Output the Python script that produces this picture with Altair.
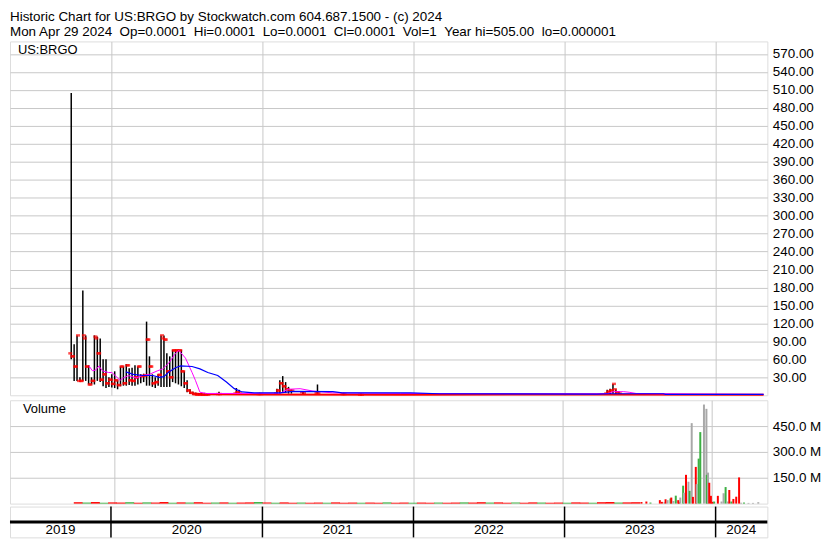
import altair as alt
import pandas as pd

FONT = "Liberation Sans"
GRID = "#c8c8c8"

title_line1 = "Historic Chart for US:BRGO by Stockwatch.com 604.687.1500 - (c) 2024"
title_line2 = ("Mon Apr 29 2024 \u00a0Op=0.0001 \u00a0Hi=0.0001 \u00a0Lo=0.0001 \u00a0Cl=0.0001"
               " \u00a0Vol=1 \u00a0Year hi=505.00 \u00a0lo=0.000001")

# ---- weekly price bars (Sep 2019 - Aug 2020) ----
early_dates = [
    "2019-09-27", "2019-10-04", "2019-10-11", "2019-10-18", "2019-10-25", "2019-11-01",
    "2019-11-08", "2019-11-15", "2019-11-22", "2019-11-29", "2019-12-06", "2019-12-13",
    "2019-12-20", "2019-12-27", "2020-01-03", "2020-01-10", "2020-01-17", "2020-01-24",
    "2020-01-31", "2020-02-07", "2020-02-14", "2020-02-21", "2020-02-28", "2020-03-06",
    "2020-03-13", "2020-03-20", "2020-03-27", "2020-04-03", "2020-04-10", "2020-04-17",
    "2020-04-24", "2020-05-01", "2020-05-08", "2020-05-15", "2020-05-22", "2020-05-29",
    "2020-06-05", "2020-06-12", "2020-06-19", "2020-06-26", "2020-07-03", "2020-07-10",
    "2020-07-17", "2020-07-24", "2020-07-31", "2020-08-07",
]
early_high = [505, 85, 100, 30, 175, 100, 50, 30, 100, 98, 95, 60, 60, 30, 35, 40, 25, 48,
              48, 52, 45, 46, 50, 48, 35, 36, 123, 65, 35, 30, 35, 100, 100, 70, 65, 76,
              76, 76, 76, 40, 25, 10, 6, 4, 3, 3]
early_low = [60, 24, 24, 22, 24, 24, 18, 18, 18, 24, 22, 15, 12, 14, 13, 12, 10, 15,
             16, 16, 17, 16, 16, 18, 20, 22, 16, 16, 14, 12, 16, 14, 14, 14, 14, 22,
             20, 18, 15, 12, 5, 2, 1, 0.5, 0.5, 0.3]
early_open = [70, 65, 48, 24, 24, 95, 48, 18, 24, 95, 70, 26, 35, 20, 26, 19, 25, 17,
              48, 20, 50, 25, 24, 30, 48, 32, 33, 93, 48, 20, 22, 34, 95, 93, 40, 30,
              75, 75, 75, 40, 20, 8, 4, 2, 1, 1]
early_close = [65, 48, 100, 24, 100, 48, 18, 24, 98, 70, 26, 35, 20, 26, 19, 25, 17, 48,
               20, 50, 25, 24, 30, 48, 32, 33, 93, 48, 20, 22, 34, 100, 93, 40, 30, 75,
               75, 75, 40, 20, 8, 4, 2, 1, 1, 0.8]

# ---- later visible price bars ----
later_dates = ["2020-08-14", "2020-08-21", "2020-09-18", "2020-10-30", "2020-11-06",
               "2020-12-25", "2021-02-05", "2021-02-12", "2021-02-19", "2021-02-26",
               "2021-03-05", "2021-03-12", "2021-04-09", "2021-05-14", "2021-07-16",
               "2021-08-27", "2023-04-14", "2023-04-21", "2023-04-28", "2023-05-05",
               "2023-05-12"]
later_high = [4, 3, 6, 12, 9, 4, 11, 25, 32, 22, 14, 10, 6, 18, 4, 3, 9, 11, 19, 10, 7]
later_low = [0.5, 0.5, 1, 2, 2, 1, 2, 3, 4, 4, 3, 3, 2, 3, 1, 1, 2, 2, 3, 2, 2]
later_open = [1, 1, 2, 3, 5, 2, 3, 8, 20, 15, 10, 8, 5, 4, 2, 1, 3, 6, 8, 10, 5]
later_close = [1, 1, 2, 5, 3, 2, 8, 20, 15, 10, 8, 8, 4, 4, 2, 1, 6, 8, 19, 5, 3]

# ---- moving averages / close line ----
fast_dates = ["2019-11-09", "2019-11-17", "2019-11-25", "2019-12-03", "2019-12-11",
              "2019-12-26", "2020-01-03", "2020-01-11", "2020-01-23", "2020-01-31",
              "2020-02-12", "2020-03-02", "2020-03-18", "2020-04-03", "2020-04-23",
              "2020-05-05", "2020-05-20", "2020-06-05", "2020-06-13", "2020-06-29",
              "2020-07-15", "2020-07-23", "2020-08-03", "2020-08-19", "2020-11-18",
              "2021-02-13", "2021-03-04", "2021-04-02", "2021-05-03", "2021-06-20",
              "2021-12-01", "2023-03-20", "2023-04-16", "2023-04-28", "2023-05-24",
              "2023-06-06", "2023-06-23", "2023-11-12", "2024-04-26"]
fast_vals = [49, 41, 42, 49, 41, 38, 38, 33, 25, 29, 33, 29, 33, 35, 41, 44, 54, 70, 75,
             62, 38, 25, 5, 3, 3, 3.5, 10, 11, 7, 4, 3, 2.5, 3, 6, 6, 5, 3, 2, 1.5]

slow_dates = ["2020-02-06", "2020-02-24", "2020-03-18", "2020-04-11", "2020-04-27",
              "2020-05-08", "2020-05-20", "2020-06-05", "2020-06-17", "2020-07-15",
              "2020-08-03", "2020-08-22", "2020-09-15", "2020-10-06", "2020-10-25",
              "2020-11-13", "2020-12-12", "2021-02-13", "2021-03-16", "2021-06-20",
              "2021-07-13", "2021-12-25", "2022-03-05", "2023-03-20", "2023-04-16",
              "2023-08-28", "2023-09-02", "2024-04-26"]
slow_vals = [39, 35, 33, 33, 30, 31, 39, 46, 49, 48, 44, 38, 33, 22, 11, 5.5, 4, 4, 6.5,
             6, 4, 4, 2.5, 2, 2.5, 2.5, 1.5, 1.5]

close_dates = ["2020-07-20", "2020-08-10", "2021-12-01", "2023-03-20", "2024-04-26"]
close_vals = [3, 1.5, 1, 1.2, 1]

# ---- volume (millions): thin early strip, then the 2023-24 activity ----
strip_dates = [
    "2019-10-04", "2019-10-25", "2019-11-15", "2019-12-06", "2019-12-27", "2020-01-17",
    "2020-02-07", "2020-02-28", "2020-03-20", "2020-04-10", "2020-05-01", "2020-05-22",
    "2020-06-12", "2020-07-03", "2020-07-24", "2020-08-14", "2020-09-04", "2020-09-25",
    "2020-10-16", "2020-11-06", "2020-11-27", "2020-12-18", "2021-01-08", "2021-01-29",
    "2021-02-19", "2021-03-12", "2021-04-02", "2021-04-23", "2021-05-14", "2021-06-04",
    "2021-06-25", "2021-07-16", "2021-08-06", "2021-08-27", "2021-09-17", "2021-10-08",
    "2021-10-29", "2021-11-19", "2021-12-10", "2021-12-31", "2022-01-21", "2022-02-11",
    "2022-03-04", "2022-03-25", "2022-04-15", "2022-05-06", "2022-05-27", "2022-06-17",
    "2022-07-08", "2022-07-29", "2022-08-19", "2022-09-09", "2022-09-30", "2022-10-21",
    "2022-11-11", "2022-12-02", "2022-12-23", "2023-01-13", "2023-02-03", "2023-02-24",
    "2023-03-17", "2023-04-07", "2023-04-28", "2023-05-19", "2023-06-09", "2023-06-30",
]
strip_millions = [
    8, 6, 9, 5, 7, 6, 8, 5, 7, 6, 9, 5, 7, 6, 8, 5, 6, 7, 5, 6, 7, 9, 6, 5, 7, 5, 6, 5,
    6, 5, 7, 5, 6, 5, 6, 5, 7, 5, 6, 5, 6, 5, 6, 5, 6, 7, 6, 8, 6, 7, 5, 6, 5, 7, 6, 5,
    6, 5, 7, 6, 5, 8, 9, 6, 7, 8,
]
strip_dirs = [
    "down", "up", "down", "up", "down", "down", "up", "down", "up", "down", "down", "up",
    "down", "up", "down", "down", "up", "down", "up", "down", "down", "up", "down", "up",
    "down", "down", "up", "down", "down", "up", "down", "down", "down", "up", "down",
    "down", "up", "down", "down", "up", "down", "down", "up", "down", "down", "up",
    "down", "down", "up", "down", "down", "up", "down", "down", "up", "down", "down",
    "up", "down", "down", "up", "down", "down", "up", "down", "down",
]

vol_dates = [
    "2023-07-14", "2023-07-26", "2023-08-05", "2023-08-28", "2023-09-02", "2023-09-08",
    "2023-09-11", "2023-09-16", "2023-09-23", "2023-09-25", "2023-09-30", "2023-10-06",
    "2023-10-12", "2023-10-14", "2023-10-17", "2023-10-24", "2023-10-26", "2023-10-31",
    "2023-11-06", "2023-11-09", "2023-11-14", "2023-11-17", "2023-11-24", "2023-11-26",
    "2023-12-01", "2023-12-05", "2023-12-14", "2023-12-20", "2023-12-21", "2023-12-24",
    "2023-12-27", "2023-12-31", "2024-01-04", "2024-01-08", "2024-01-17", "2024-01-26",
    "2024-01-31", "2024-02-05", "2024-02-10", "2024-02-14", "2024-02-19", "2024-02-24",
    "2024-03-02", "2024-03-09", "2024-03-14", "2024-03-21", "2024-04-01", "2024-04-12",
    "2024-04-25",
]
vol_millions = [
    9, 12, 6, 20, 10, 8, 25, 20, 30, 35, 15, 46, 20, 10, 35, 104, 63, 167, 127, 74, 467,
    39, 213, 113, 261, 415, 575, 550, 167, 180, 121, 45, 10, 12, 45, 12, 60, 96, 12, 79,
    12, 27, 40, 152, 5, 6, 4, 4, 8,
]
vol_dirs = [
    "down", "down", "up", "down", "down", "flat", "down", "flat", "up", "down", "flat",
    "up", "down", "down", "flat", "up", "flat", "down", "flat", "up", "flat", "down",
    "down", "flat", "up", "up", "flat", "flat", "up", "flat", "down", "down", "down",
    "up", "down", "flat", "flat", "up", "flat", "down", "up", "down", "down", "down",
    "flat", "up", "flat", "flat", "flat",
]

price_ticks = [30, 60, 90, 120, 150, 180, 210, 240, 270, 300, 330, 360, 390, 420, 450,
               480, 510, 540, 570]
volume_ticks = [150e6, 300e6, 450e6]
year_starts = ["2020-01-01", "2021-01-01", "2022-01-01", "2023-01-01", "2024-01-01"]
year_names = ["2019", "2020", "2021", "2022", "2023", "2024"]
year_label_dates = ["2019-09-01", "2020-07-02", "2021-07-02", "2022-07-02",
                    "2023-07-02", "2024-03-03"]


def ms(s):
    return int(pd.Timestamp(s).value // 10**6)


x_domain = [ms("2019-05-02"), ms("2024-05-05")]
year_grid = [ms(d) for d in year_starts]

W = 762
x_grid = alt.X("date:T", scale=alt.Scale(domain=x_domain),
               axis=alt.Axis(values=year_grid, tickCount=len(year_grid), labels=False,
                             ticks=False, domain=False, grid=True, gridColor=GRID,
                             gridWidth=1, title=None))
x_plain = alt.X("date:T", scale=alt.Scale(domain=x_domain), axis=None)

price_scale = alt.Scale(domain=[0, 591], nice=False, zero=True)
price_axis = alt.Axis(orient="right", values=price_ticks, tickCount=len(price_ticks),
                      format=".2f", grid=True, gridColor=GRID, ticks=False, domain=False,
                      labelPadding=5, labelFontSize=13.5, labelFont=FONT,
                      labelColor="#000000", labelOverlap=False, title=None)

bars_df = pd.DataFrame({
    "date": early_dates + later_dates,
    "high": early_high + later_high,
    "low": early_low + later_low,
    "open": early_open + later_open,
    "close": early_close + later_close,
})
fast_df = pd.DataFrame({"date": fast_dates, "value": fast_vals})
slow_df = pd.DataFrame({"date": slow_dates, "value": slow_vals})
close_df = pd.DataFrame({"date": close_dates, "value": close_vals})

close_line = alt.Chart(close_df).mark_line(color="#ff0000", strokeWidth=2).encode(
    x=x_grid, y=alt.Y("value:Q", scale=price_scale, axis=price_axis))
hl = alt.Chart(bars_df).mark_rule(color="black", strokeWidth=1.5).encode(
    x=x_grid, y=alt.Y("low:Q", scale=price_scale, axis=price_axis), y2="high:Q")
op_tick = alt.Chart(bars_df).mark_tick(color="#ff0000", orient="horizontal", size=4,
                                       thickness=2.5, xOffset=-1).encode(
    x=x_grid, y=alt.Y("open:Q", scale=price_scale, axis=price_axis))
cl_tick = alt.Chart(bars_df).mark_tick(color="#ff0000", orient="horizontal", size=4,
                                       thickness=2.5, xOffset=1).encode(
    x=x_grid, y=alt.Y("close:Q", scale=price_scale, axis=price_axis))
fast_line = alt.Chart(fast_df).mark_line(color="#ff00ff", strokeWidth=1).encode(
    x=x_grid, y=alt.Y("value:Q", scale=price_scale, axis=price_axis))
slow_line = alt.Chart(slow_df).mark_line(color="#0000ff", strokeWidth=1.2).encode(
    x=x_grid, y=alt.Y("value:Q", scale=price_scale, axis=price_axis))
sym_label = alt.Chart(pd.DataFrame({"label": ["US:BRGO"]})).mark_text(
    align="left", baseline="top", dx=8, dy=3, font=FONT, fontSize=13, color="black").encode(
    x=alt.XDatum(alt.DateTime(year=2019, month=5, date=2, utc=True), type="temporal"),
    y=alt.YDatum(591), text="label:N")

price = alt.layer(close_line, hl, op_tick, cl_tick, fast_line, slow_line, sym_label).properties(
    width=W, height=356)

vol_scale = alt.Scale(domain=[0, 600e6], nice=False)
vol_axis = alt.Axis(orient="right", values=volume_ticks, tickCount=len(volume_ticks),
                    grid=True, gridColor=GRID, ticks=False, domain=False, labelPadding=5,
                    labelFontSize=13.5, labelFont=FONT, labelColor="#000000",
                    labelExpr="format(datum.value / 1000000, '.1f') + ' M'", title=None)
vol_color = alt.Color("dir:N", scale=alt.Scale(domain=["up", "down", "flat"],
                                               range=["#3cb043", "#ff0000", "#a8a8a8"]),
                      legend=None)

strip_df = pd.DataFrame({"date": strip_dates,
                         "volume": [v * 1e6 for v in strip_millions],
                         "dir": strip_dirs})
vol_df = pd.DataFrame({"date": vol_dates,
                       "volume": [v * 1e6 for v in vol_millions],
                       "dir": vol_dirs})
sbars = alt.Chart(strip_df).mark_bar(size=9).encode(
    x=x_grid, y=alt.Y("volume:Q", scale=vol_scale, axis=vol_axis), color=vol_color)
vbars = alt.Chart(vol_df).mark_bar(size=2).encode(
    x=x_grid, y=alt.Y("volume:Q", scale=vol_scale, axis=vol_axis), color=vol_color)
vol_label = alt.Chart(pd.DataFrame({"label": ["Volume"]})).mark_text(
    align="left", baseline="top", dx=8, dy=3, font=FONT, fontSize=13, color="black").encode(
    x=alt.XDatum(alt.DateTime(year=2019, month=5, date=2, utc=True), type="temporal"),
    y=alt.YDatum(600e6), text="label:N")
volume = alt.layer(sbars, vbars, vol_label).properties(width=W, height=104)

row_scale = alt.Scale(domain=[0, 2], nice=False)
yr_rules = alt.Chart(pd.DataFrame({"date": year_starts})).mark_rule(
    color="black", strokeWidth=1.5).encode(x=x_plain)
mid_rule = alt.Chart(pd.DataFrame({"row": [1]})).mark_rule(
    color="black", strokeWidth=3).encode(y=alt.Y("row:Q", scale=row_scale, axis=None))
yr_text = alt.Chart(pd.DataFrame({"date": year_label_dates, "year": year_names})).mark_text(
    font=FONT, fontSize=13.5, color="black", baseline="middle").encode(
    x=x_plain, y=alt.YDatum(0.5), text="year:N")
years = alt.layer(yr_rules, mid_rule, yr_text).properties(width=W, height=31)

chart = alt.vconcat(price, volume, years, spacing=0).properties(
    title=alt.TitleParams([title_line1, title_line2], anchor="start", font=FONT,
                          fontSize=13.5, fontWeight="normal", lineHeight=16, offset=2,
                          dx=2, color="black"),
    padding={"left": 0, "top": 0, "right": 0, "bottom": 0},
).configure_view(stroke="black", strokeWidth=2).configure(background="white")

chart.save("out.html", embed_options={"renderer": "svg", "actions": False})
